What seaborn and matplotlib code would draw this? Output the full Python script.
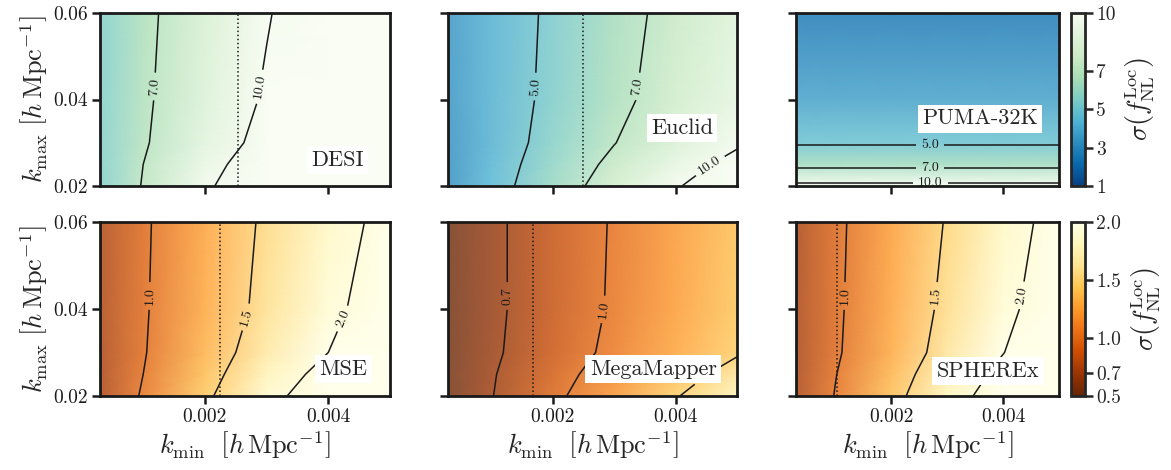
import numpy as np
import matplotlib
matplotlib.use("Agg")
import matplotlib.pyplot as plt
import seaborn as sns
from matplotlib.colors import Normalize, ListedColormap
from matplotlib.cm import ScalarMappable
from matplotlib.ticker import FormatStrFormatter

sns.set_theme(style="ticks")
plt.rcParams["font.family"] = ["cmr10", "DejaVu Serif"]
plt.rcParams["mathtext.fontset"] = "cm"
plt.rcParams["axes.unicode_minus"] = False
plt.rcParams["axes.formatter.use_mathtext"] = True

# ---------------------- data ----------------------

kmin_grid = [0.0003, 0.001, 0.002, 0.003, 0.004, 0.005]
kmax_grid = [0.02, 0.025, 0.03, 0.04, 0.06]

desi = [
    [5.4, 7.1, 9.6, 12.1, 14.5, 17.0],
    [5.4, 7.0, 9.2, 11.4, 13.6, 15.9],
    [5.45, 6.8, 8.8, 10.7, 12.7, 14.7],
    [5.4, 6.7, 8.45, 10.25, 12.05, 13.8],
    [5.4, 6.6, 8.2, 9.85, 11.5, 13.1],
]
euclid = [
    [3.15, 4.35, 6.05, 7.85, 9.8, 11.7],
    [3.15, 4.25, 5.8, 7.4, 9.05, 10.7],
    [3.2, 4.15, 5.55, 6.95, 8.3, 9.7],
    [3.3, 4.15, 5.35, 6.55, 7.8, 9.0],
    [3.35, 4.15, 5.25, 6.4, 7.5, 8.6],
]
puma = [
    [10.7] * 6,
    [6.3] * 6,
    [4.85] * 6,
    [3.7] * 6,
    [2.4] * 6,
]
mse = [
    [0.74, 1.03, 1.44, 1.86, 2.28, 2.7],
    [0.74, 1.0, 1.38, 1.76, 2.14, 2.5],
    [0.74, 0.98, 1.33, 1.67, 2.0, 2.33],
    [0.75, 0.97, 1.28, 1.59, 1.9, 2.23],
    [0.75, 0.96, 1.26, 1.55, 1.83, 2.12],
]
megamapper = [
    [0.52, 0.69, 0.94, 1.2, 1.48, 1.76],
    [0.52, 0.68, 0.9, 1.13, 1.37, 1.62],
    [0.52, 0.66, 0.86, 1.06, 1.27, 1.47],
    [0.52, 0.65, 0.84, 1.03, 1.23, 1.42],
    [0.52, 0.65, 0.84, 1.02, 1.21, 1.4],
]
spherex = [
    [0.74, 1.01, 1.39, 1.8, 2.23, 2.65],
    [0.74, 0.99, 1.34, 1.71, 2.11, 2.5],
    [0.73, 0.96, 1.29, 1.62, 1.99, 2.36],
    [0.74, 0.95, 1.26, 1.57, 1.9, 2.24],
    [0.74, 0.94, 1.23, 1.52, 1.83, 2.14],
]

survey_names = ["DESI", "Euclid", "PUMA-32K", "MSE", "MegaMapper", "SPHEREx"]
survey_values = [desi, euclid, puma, mse, megamapper, spherex]
kmin_fundamental = [0.00254, 0.0025, None, 0.00224, 0.00168, 0.00104]

top_levels = [5.0, 7.0, 10.0]
bottom_levels = [0.7, 1.0, 1.5, 2.0]
top_cbar_ticks = [1, 3, 5, 7, 10]
bottom_cbar_ticks = [0.5, 0.7, 1.0, 1.5, 2.0]

# ---------------------- layout ----------------------

W, H = 1171, 470
col_left = [100, 448, 796]
col_width = [290, 289, 263]
row_top = [13, 222]
row_height = [173, 174]

label_xy = [(0.82, 0.15), (0.81, 0.335), (0.70, 0.39),
            (0.84, 0.155), (0.71, 0.155), (0.73, 0.145)]
clabel_pos = [
    [(0.00119, 0.043), (0.00286, 0.043)],
    [(0.0017, 0.043), (0.0034, 0.043), (0.0046, 0.024)],
    [(0.0027, 0.0295), (0.0027, 0.0242), (0.0027, 0.0206)],
    [(0.0011, 0.043), (0.0027, 0.038), (0.0042, 0.038)],
    [(0.00126, 0.043), (0.0028, 0.040), (0.0045, 0.0245)],
    [(0.00116, 0.043), (0.0028, 0.043), (0.0044, 0.043)],
]

top_cmap = sns.color_palette("GnBu_r", as_cmap=True)
bottom_cmap = sns.color_palette("YlOrBr_r", as_cmap=True)
top_norm = Normalize(1, 10)
bottom_norm = Normalize(0.5, 2.0)


def faded(cmap, a=0.8):
    # the panels are drawn semi-transparent over white
    cols = cmap(np.linspace(0, 1, 256))[:, :3]
    return ListedColormap(a * cols + (1 - a))


def px_axes(fig, left, top, width, height):
    return fig.add_axes([left / W, 1 - (top + height) / H, width / W, height / H])


def style_axes(ax):
    for sp in ax.spines.values():
        sp.set_linewidth(2)
        sp.set_color("k")
    ax.tick_params(direction="out", length=6, width=1.8, labelsize=14,
                   colors="k", pad=3)


def draw_panel(ax, values, cmap, norm, levels, name, kfund, lpos, txy):
    X, Y = np.meshgrid(kmin_grid, kmax_grid)
    Z = np.array(values)
    ax.pcolormesh(X, Y, Z, shading="gouraud", cmap=faded(cmap), norm=norm)
    present = [l for l in levels if Z.min() < l < Z.max()]
    cs = ax.contour(X, Y, Z, levels=present, colors="k", linewidths=1.1)
    ax.clabel(cs, fmt="%.1f", fontsize=10, inline=True, manual=lpos)
    if kfund is not None:
        ax.axvline(kfund, color="k", ls=":", lw=1.1)
    ax.text(txy[0], txy[1], name, transform=ax.transAxes, fontsize=16,
            ha="center", va="center", zorder=10,
            bbox=dict(facecolor="white", edgecolor="none", pad=3))
    ax.set_xlim(0.0003, 0.005)
    ax.set_ylim(0.02, 0.06)
    ax.set_xticks([0.002, 0.004])
    ax.set_yticks([0.02, 0.04, 0.06])
    ax.xaxis.set_major_formatter(FormatStrFormatter("%.3f"))
    ax.yaxis.set_major_formatter(FormatStrFormatter("%.2f"))
    style_axes(ax)


def main():
    fig = plt.figure(figsize=(W / 100, H / 100), dpi=100)
    for i in range(6):
        r, c = divmod(i, 3)
        ax = px_axes(fig, col_left[c], row_top[r], col_width[c], row_height[r])
        if r == 0:
            cmap, norm, levels = top_cmap, top_norm, top_levels
        else:
            cmap, norm, levels = bottom_cmap, bottom_norm, bottom_levels
        draw_panel(ax, survey_values[i], cmap, norm, levels, survey_names[i],
                   kmin_fundamental[i], clabel_pos[i], label_xy[i])
        if r == 0:
            ax.tick_params(labelbottom=False)
        else:
            ax.set_xlabel(r"$k_{\rm min}\ \ \left[h\,{\rm Mpc}^{-1}\right]$",
                          fontsize=19, labelpad=2)
        if c != 0:
            ax.tick_params(labelleft=False)
        else:
            ax.set_ylabel(r"$k_{\rm max}\ \left[h\,{\rm Mpc}^{-1}\right]$",
                          fontsize=19, labelpad=2)

    for r in range(2):
        cax = px_axes(fig, 1071, row_top[r], 14, row_height[r])
        if r == 0:
            sm = ScalarMappable(norm=top_norm, cmap=top_cmap)
            cb = fig.colorbar(sm, cax=cax, ticks=top_cbar_ticks)
            cb.ax.yaxis.set_major_formatter(FormatStrFormatter("%d"))
        else:
            sm = ScalarMappable(norm=bottom_norm, cmap=bottom_cmap)
            cb = fig.colorbar(sm, cax=cax, ticks=bottom_cbar_ticks)
            cb.ax.yaxis.set_major_formatter(FormatStrFormatter("%.1f"))
        cb.outline.set_linewidth(2)
        cb.ax.minorticks_off()
        cb.ax.tick_params(direction="out", length=6, width=1.8, labelsize=14, pad=2)
        cb.set_label(r"$\sigma\left(f_{\rm NL}^{\rm Loc}\right)$", fontsize=19,
                     labelpad=6)

    fig.savefig("out.png", dpi=100, facecolor="white")


if __name__ == "__main__":
    main()
